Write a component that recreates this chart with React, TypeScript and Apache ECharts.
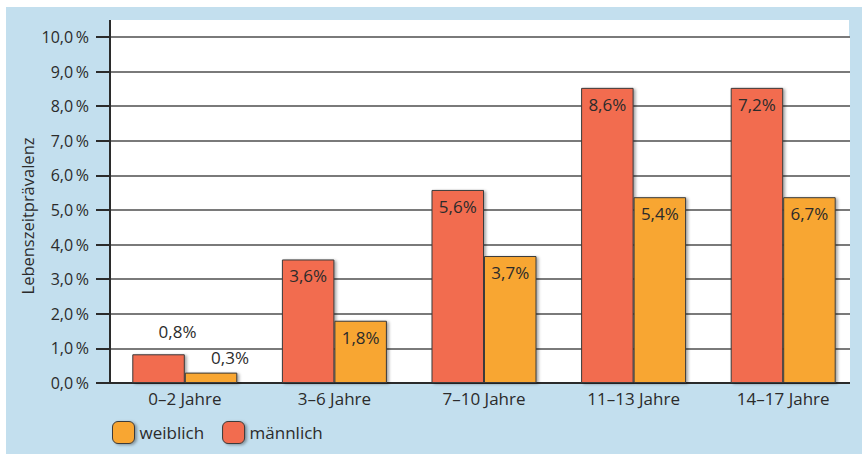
import React, { useEffect, useRef } from "react";
import * as echarts from "echarts";

const categories = ["0–2 Jahre", "3–6 Jahre", "7–10 Jahre", "11–13 Jahre", "14–17 Jahre"];
const maleValues = [0.83, 3.57, 5.58, 8.53, 8.53];
const femaleValues = [0.3, 1.8, 3.67, 5.37, 5.37];
const maleLabels = ["0,8", "3,6", "5,6", "8,6", "7,2"];
const femaleLabels = ["0,3", "1,8", "3,7", "5,4", "6,7"];
const yTicks = [0, 1, 2, 3, 4, 5, 6, 7, 8, 9, 10];

const FONT = "Open Sans";
const TEXT = "#2b2b2b";
const MALE = "#f26c4f";
const FEMALE = "#f8a632";
const BLUE = "#c3dfee";

export default function App() {
  const ref = useRef<HTMLDivElement>(null);
  useEffect(() => {
    const chart = echarts.init(ref.current!, null, { renderer: "svg" });
    const barStyle = (color: string) => ({
      color,
      borderColor: "#3a3a3a",
      borderWidth: 1,
      shadowColor: "rgba(0,0,0,0.35)",
      shadowBlur: 3,
      shadowOffsetX: 2,
      shadowOffsetY: 1,
    });
    const labelFor = (labels: string[]) => (p: any) => labels[p.dataIndex] + "%";
    chart.setOption({
      animation: false,
      textStyle: { fontFamily: FONT },
      graphic: [
        {
          type: "rect",
          z: -10,
          silent: true,
          shape: { x: 6, y: 7, width: 856, height: 447 },
          style: { fill: BLUE },
        },
        {
          type: "rect",
          z: -5,
          silent: true,
          shape: { x: 110, y: 20, width: 739, height: 20 },
          style: { fill: "#ffffff" },
        },
        {
          type: "rect",
          z: 100,
          silent: true,
          shape: { x: 850, y: 7, width: 12, height: 400 },
          style: { fill: BLUE },
        },
        {
          type: "line",
          z: 10,
          silent: true,
          shape: { x1: 110, y1: 20, x2: 110, y2: 38 },
          style: { stroke: "#2b2b2b", lineWidth: 2 },
        },
        {
          type: "text",
          x: 27,
          y: 216,
          rotation: Math.PI / 2,
          style: {
            text: "Lebenszeitprävalenz",
            fontFamily: FONT,
            fontSize: 16.5,
            fill: TEXT,
            align: "center",
            verticalAlign: "middle",
          },
        },
      ],
      legend: {
        left: 107,
        top: 416,
        itemWidth: 22,
        itemHeight: 22,
        itemGap: 18,
        textStyle: { fontFamily: FONT, fontSize: 17, color: TEXT },
        data: [
          { name: "weiblich", itemStyle: barStyle(FEMALE) },
          { name: "männlich", itemStyle: barStyle(MALE) },
        ],
      },
      grid: {
        left: 110,
        right: 4,
        top: 37,
        bottom: 71,
        show: true,
        backgroundColor: "#ffffff",
        borderWidth: 0,
      },
      xAxis: {
        type: "category",
        data: categories,
        axisLine: { lineStyle: { color: "#2b2b2b", width: 2 } },
        axisTick: { show: false },
        axisLabel: { fontFamily: FONT, fontSize: 17, color: TEXT, margin: 7 },
      },
      yAxis: {
        type: "value",
        min: yTicks[0],
        max: yTicks[yTicks.length - 1],
        interval: 1,
        axisLine: { show: true, lineStyle: { color: "#2b2b2b", width: 2 } },
        axisTick: { show: true, length: 14, lineStyle: { color: "#2b2b2b", width: 2 } },
        splitLine: { lineStyle: { color: "#7a7a7a", width: 2 } },
        axisLabel: {
          fontFamily: FONT,
          fontSize: 16,
          color: TEXT,
          margin: 21,
          formatter: (v: number) => v.toFixed(1).replace(".", ",") + "\u2009%",
        },
      },
      series: [
        {
          name: "männlich",
          type: "bar",
          data: maleValues,
          barWidth: 52.5,
          barGap: "0%",
          itemStyle: barStyle(MALE),
          label: {
            show: true,
            position: "insideTop",
            distance: 8,
            fontFamily: FONT,
            fontSize: 17,
            color: TEXT,
            formatter: labelFor(maleLabels),
          },
          labelLayout: (p: any) =>
            p.dataIndex === 0 ? { y: p.rect.y - 31 } : {},
        },
        {
          name: "weiblich",
          type: "bar",
          data: femaleValues,
          barWidth: 52.5,
          barGap: "0%",
          itemStyle: barStyle(FEMALE),
          label: {
            show: true,
            position: "insideTop",
            distance: 8,
            fontFamily: FONT,
            fontSize: 17,
            color: TEXT,
            formatter: labelFor(femaleLabels),
          },
          labelLayout: (p: any) =>
            p.dataIndex === 0 ? { y: p.rect.y - 24 } : {},
        },
      ],
    });
    return () => chart.dispose();
  }, []);
  return (
    <div
      ref={ref}
      style={{ position: "absolute", left: 0, top: 0, width: 862, height: 454, background: "#ffffff" }}
    />
  );
}
